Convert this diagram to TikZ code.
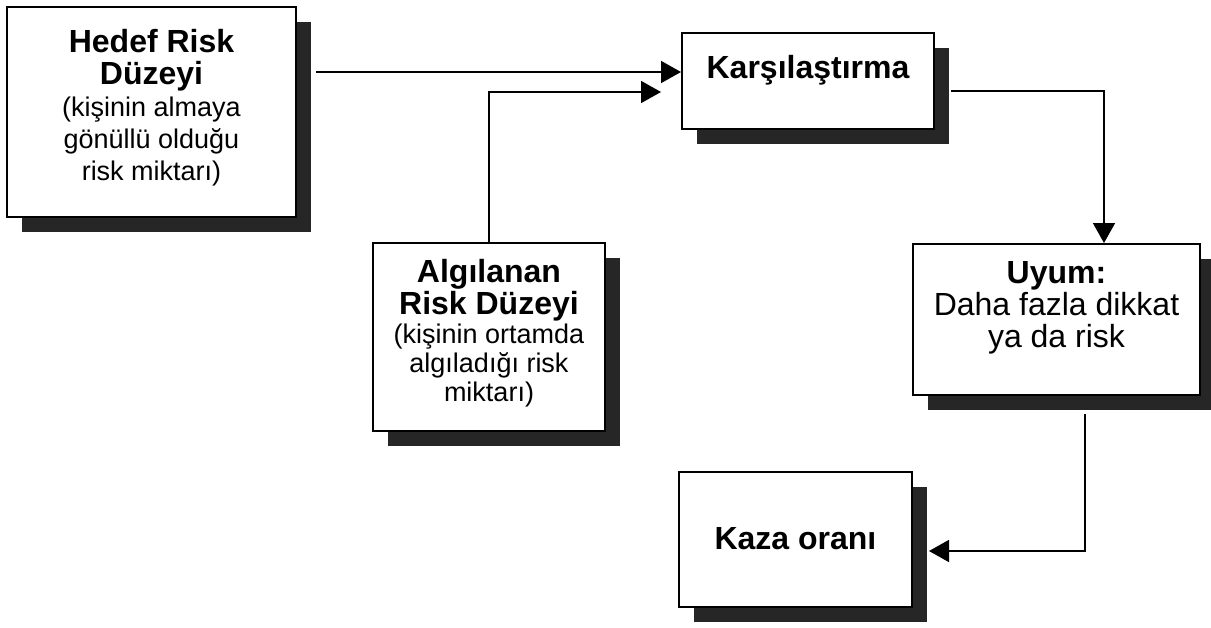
\documentclass[tikz,border=0pt]{standalone}
\usepackage{fontspec}
\setmainfont{Liberation Sans}
\usetikzlibrary{arrows.meta,shadows}
\newcommand{\kucuk}{\fontsize{13.5}{16}\selectfont}

\begin{document}
\begin{tikzpicture}[x=0.5pt,y=-0.5pt,
    box/.style={draw, line width=1pt, fill=white, inner sep=0pt,
      drop shadow={shadow xshift=7.5pt, shadow yshift=-7.5pt, fill=black!85, opacity=1}},
    lbl/.style={align=center, inner sep=0pt, anchor=north, font=\fontsize{16}{16}\selectfont},
    conn/.style={line width=0.8pt, -{Triangle[length=10pt,width=11pt]}}]
        \useasboundingbox (0,0) rectangle (1211,627);

        % Kutular
        \node[box, minimum width=144.5pt, minimum height=105pt] (hedef) at (151.5,112) {};
        \node[box, minimum width=126pt, minimum height=48pt] (karsi) at (808,81) {};
        \node[box, minimum width=116pt, minimum height=94pt] (algi) at (489,337) {};
        \node[box, minimum width=143.5pt, minimum height=75.5pt] (uyum) at (1056.5,319.5) {};
        \node[box, minimum width=116.5pt, minimum height=67.5pt] (kaza) at (795.5,539.5) {};

        % Yazilar
        \node[lbl] (hedeft) at ([yshift=-11.5pt]hedef.north)
            {\bfseries Hedef Risk\\\bfseries Düzeyi\\\kucuk(kişinin almaya\\\kucuk gönüllü olduğu\\\kucuk risk miktarı)};
        \node[lbl] (karsit) at ([yshift=-11.5pt]karsi.north) {\bfseries Karşılaştırma};
        \node[lbl, font=\fontsize{16}{14.5}\selectfont] (algit) at ([yshift=-8.5pt]algi.north)
            {\bfseries Algılanan\\\bfseries Risk Düzeyi\\\kucuk(kişinin ortamda\\\kucuk algıladığı risk\\\kucuk miktarı)};
        \node[lbl] (uyumt) at ([yshift=-9pt]uyum.north)
            {\bfseries Uyum:\\Daha fazla dikkat\\ya da risk};
        \node[lbl] (kazat) at ([yshift=-28pt]kaza.north) {\bfseries Kaza oranı};

        % Oklar
        \coordinate (inA) at ([yshift=4.5pt]karsi.west);
        \coordinate (inB) at ([xshift=-10pt,yshift=-5.5pt]karsi.west);
        \draw[conn] ([xshift=9.5pt]hedef.east |- inA) -- (inA);
        \draw[conn] (algi.north) |- (inB);
        \draw[conn] ([xshift=8pt,yshift=-5pt]karsi.east) -| ([xshift=23.75pt]uyum.north);
        \draw[conn] ([xshift=14.25pt,yshift=-9pt]uyum.south) |- ([xshift=8pt,yshift=-5.75pt]kaza.east);
\end{tikzpicture}
\end{document}
